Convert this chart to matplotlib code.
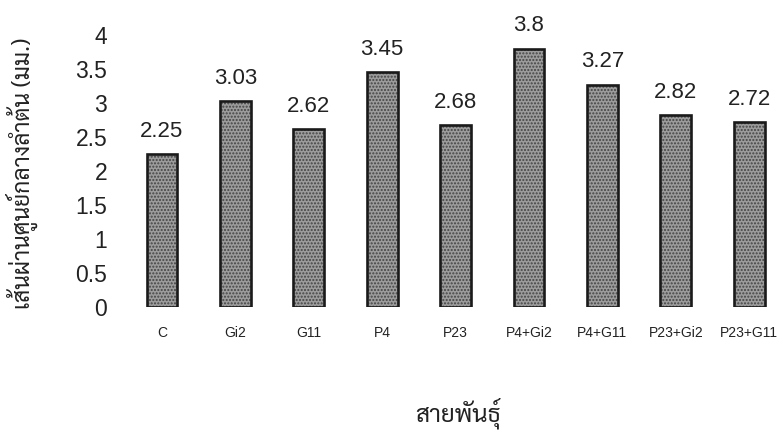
import matplotlib
matplotlib.use("Agg")
import matplotlib.pyplot as plt
import numpy as np

categories = ['C', 'Gi2', 'G11', 'P4', 'P23', 'P4+Gi2', 'P4+G11', 'P23+Gi2', 'P23+G11']
values = [2.25, 3.03, 2.62, 3.45, 2.68, 3.8, 3.27, 2.82, 2.72]
value_labels = ['2.25', '3.03', '2.62', '3.45', '2.68', '3.8', '3.27', '2.82', '2.72']
yticks = [0, 0.5, 1, 1.5, 2, 2.5, 3, 3.5, 4]
ytick_labels = ['0', '0.5', '1', '1.5', '2', '2.5', '3', '3.5', '4']

W, H = 783, 432
fig = plt.figure(figsize=(W / 100, H / 100), dpi=100)

# axes in pixel terms: x from 110 to 783, y=0 at 307, y=4 at 35
left, right, bottom, top = 110, 783, 307, 35
ax = fig.add_axes([left / W, 1 - bottom / H, (right - left) / W, (bottom - top) / H])

x = np.arange(len(categories))
ax.bar(x, values, width=0.42, color='#9c9c9c', edgecolor='#444444',
       hatch='.....', linewidth=0, zorder=2)
ax.bar(x, values, width=0.42, fill=False, edgecolor='#1a1a1a',
       linewidth=1.9, zorder=3)

for xi, v, s in zip(x, values, value_labels):
    ax.text(xi, v + 0.18, s, ha='center', va='bottom', fontsize=16,
            family=['Liberation Sans', 'DejaVu Sans'], color='#222222')

ax.set_xlim(-0.708, 8.46)
ax.set_ylim(0, 4)
ax.set_yticks(yticks)
ax.set_yticklabels(ytick_labels, fontsize=16.5, family=['Liberation Sans', 'DejaVu Sans'],
                   color='#222222')
ax.set_xticks(x)
ax.set_xticklabels(categories, fontsize=10,
                   family=['Liberation Sans Narrow', 'Liberation Sans'], color='#222222')
ax.tick_params(axis='y', length=0, pad=2)
ax.tick_params(axis='x', length=0, pad=14)
for sp in ax.spines.values():
    sp.set_visible(False)

fig.text(458 / W, 1 - 413 / H, 'สายพันธุ์', ha='center', va='center',
         fontsize=17.5, family=['Sarabun', 'DejaVu Sans'], color='#222222')
fig.text(22 / W, 1 - 173 / H, 'เส้นผ่านศูนย์กลางลำต้น (มม.)', ha='center', va='center',
         rotation=90, fontsize=16.5, family=['Sarabun', 'DejaVu Sans'], color='#222222')

fig.savefig('out.png', dpi=100)
